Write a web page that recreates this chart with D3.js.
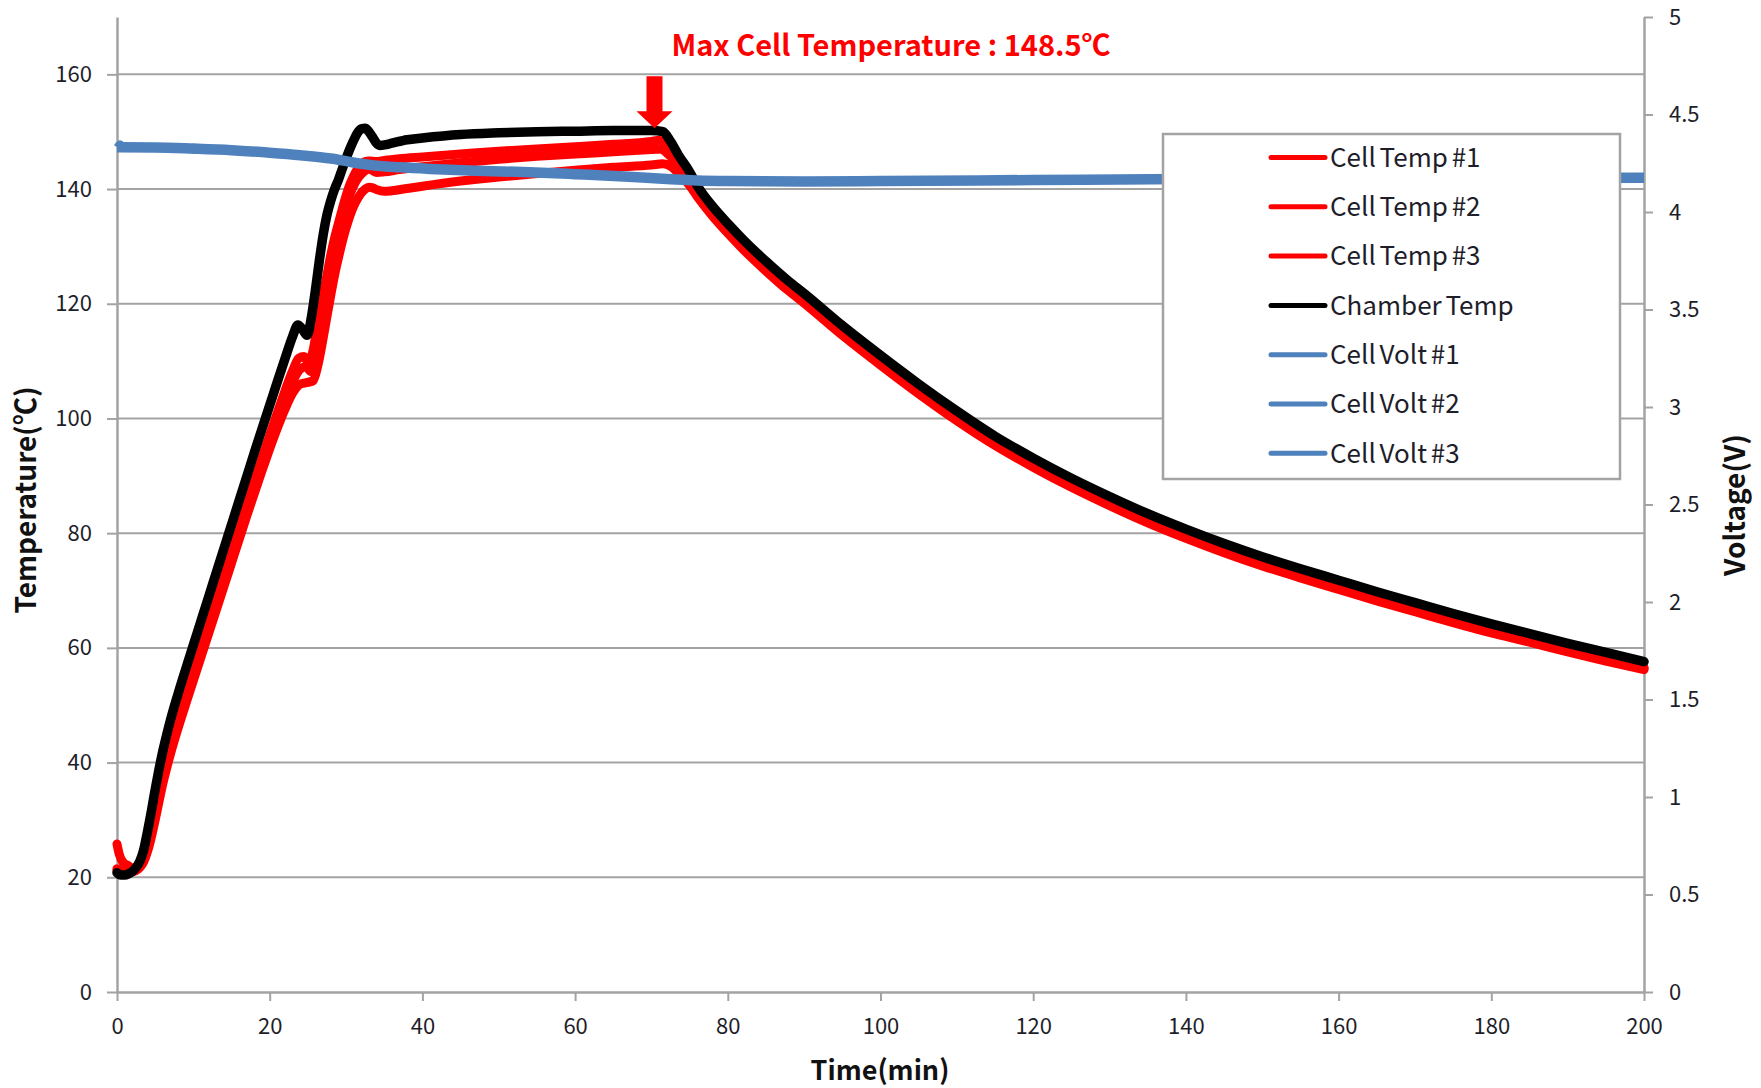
<!DOCTYPE html>
<html><head><meta charset="utf-8">
<script src="https://cdn.jsdelivr.net/npm/d3@7"></script>
<style>
body{margin:0;background:#fff}
svg{display:block}
text{font-family:"Noto Sans CJK KR","Noto Sans",sans-serif}
</style>
</head><body>
<svg id="chart" width="1761" height="1088"></svg>
<script>
// ---------------- DATA ----------------
const timeTicks = [0,20,40,60,80,100,120,140,160,180,200];
const tempTicks = [0,20,40,60,80,100,120,140,160];
const voltTicks = [0,0.5,1,1.5,2,2.5,3,3.5,4,4.5,5];
const seriesNames = ["Cell Temp #1","Cell Temp #2","Cell Temp #3","Chamber Temp","Cell Volt #1","Cell Volt #2","Cell Volt #3"];
const titleText = "Max Cell Temperature : 148.5\u2103";
const arrowPoint = [70.4, 150.6];   // [time, temp] the arrow points at

const chamberTemp = [[0,20.8],[0.5,20.4],[1,20.4],[1.5,20.6],[2,21],[2.5,21.7],[3,22.8],[3.5,24.8],[4,28],[4.5,31.5],[5,35.3],[5.5,38.8],[6,42],[6.5,44.8],[7,47.4],[8,52],[9,56.3],[10,60.5],[11,64.7],[12,68.9],[13,73.1],[14,77.3],[15,81.5],[16,85.7],[17,89.9],[18,94.1],[19,98.2],[20,102.3],[21,106.4],[22,110.4],[23,114.3],[23.7,116.3],[24.3,115.5],[24.9,114.5],[25.5,118],[26,122.5],[26.5,127.5],[27,132],[27.5,135.5],[28,138],[28.5,140],[29,141.6],[29.5,143.5],[30,145.3],[30.5,147],[31,148.5],[31.5,149.8],[32,150.5],[32.5,150.6],[33,150],[33.5,149],[34,148],[34.5,147.6],[35,147.7],[36,148],[38,148.6],[40,148.9],[45,149.5],[50,149.8],[55,150],[60,150.1],[65,150.2],[70,150.2],[71.5,150],[72.5,148.3],[73.5,146],[75,143],[76,140.6],[78,137],[80,134],[82,131.2],[85,127.4],[88,123.9],[90,121.8],[95,116.2],[100,111],[105,106],[110,101.3],[115,96.9],[120,93.1],[125,89.6],[130,86.4],[135,83.4],[140,80.7],[145,78.2],[150,75.9],[155,73.8],[160,71.8],[165,69.8],[170,67.9],[175,66],[180,64.2],[185,62.5],[190,60.8],[195,59.2],[200,57.6]];

const cellTemp1 = [[0,25.8],[0.3,24],[0.8,22.6],[1.5,22],[2,21.6],[2.5,21.6],[3,22.2],[3.5,23.6],[4,25.8],[4.5,28.8],[5,32],[5.5,35.2],[6,38.3],[6.5,41],[7,43.5],[8,48],[9,52.2],[10,56.3],[11,60.4],[12,64.5],[13,68.6],[14,72.7],[15,76.8],[16,80.9],[17,85],[18,89.1],[19,93.1],[20,97.1],[21,101],[22,104.8],[23,108.3],[23.8,110.5],[24.5,110.8],[25.1,109.6],[25.7,112],[26.3,116.5],[27,121.5],[27.5,125],[28,128.5],[28.5,131.5],[29,134],[29.5,136.5],[30,138.8],[30.5,140.8],[31,142.3],[31.5,143.5],[32,144.3],[32.5,144.8],[33,144.9],[34,144.8],[35,145],[37,145.3],[40,145.6],[45,146.1],[50,146.6],[55,147],[60,147.4],[65,147.8],[70,148.3],[71,148.5],[72,147.5],[73,145.6],[74,143.5],[75,141.3],[76,139.2],[78,135.7],[80,132.7],[82,129.9],[85,126.1],[88,122.6],[90,120.5],[95,114.9],[100,109.7],[105,104.7],[110,100],[115,95.7],[120,91.9],[125,88.4],[130,85.2],[135,82.2],[140,79.5],[145,77],[150,74.7],[155,72.6],[160,70.6],[165,68.6],[170,66.7],[175,64.8],[180,63],[185,61.4],[190,59.7],[195,58.1],[200,56.6]];

const cellTemp2 = [[0,21.5],[0.5,21.2],[1,21],[1.5,21],[2,21.1],[2.5,21.4],[3,22],[3.5,23.2],[4,25.2],[4.5,28],[5,31],[5.5,34.2],[6,37.3],[6.5,40],[7,42.5],[8,47],[9,51.2],[10,55.3],[11,59.4],[12,63.5],[13,67.6],[14,71.7],[15,75.8],[16,79.9],[17,84],[18,88.1],[19,92.1],[20,96],[21,99.8],[22,103.3],[23,106.4],[24,108.6],[24.8,109],[25.4,108.2],[26,111],[26.5,114.5],[27,118.5],[27.5,122.5],[28,126],[28.5,129.2],[29,132],[29.5,134.7],[30,137],[30.5,139],[31,140.6],[31.5,141.8],[32,142.6],[32.5,143.2],[33,143.5],[33.5,143.2],[34,142.9],[35,143],[37,143.4],[40,143.9],[45,144.6],[50,145.2],[55,145.7],[60,146.1],[65,146.5],[70,146.9],[71.2,147],[72,146.3],[73,145],[74,143],[75,141],[76,138.9],[78,135.5],[80,132.5],[82,129.7],[85,125.9],[88,122.4],[90,120.3],[95,114.7],[100,109.5],[105,104.5],[110,99.8],[115,95.5],[120,91.7],[125,88.2],[130,85],[135,82],[140,79.3],[145,76.8],[150,74.5],[155,72.4],[160,70.4],[165,68.4],[170,66.5],[175,64.6],[180,62.8],[185,61.2],[190,59.5],[195,57.9],[200,56.4]];

const cellTemp3 = [[0,21.2],[0.5,21],[1,20.8],[1.5,20.8],[2,21],[2.5,21.2],[3,21.7],[3.5,22.7],[4,24.5],[4.5,27],[5,30],[5.5,33.2],[6,36.3],[6.5,39],[7,41.5],[8,46],[9,50.2],[10,54.3],[11,58.4],[12,62.5],[13,66.6],[14,70.7],[15,74.8],[16,78.9],[17,83],[18,87],[19,90.9],[20,94.7],[21,98.3],[22,101.6],[23,104.4],[24,106],[25,106.3],[25.7,106.6],[26.3,109.2],[27,114],[27.5,117.8],[28,121.5],[28.5,125],[29,128],[29.5,130.8],[30,133.2],[30.5,135.3],[31,137],[31.5,138.3],[32,139.3],[32.5,140],[33,140.3],[33.5,140.2],[34,139.9],[35,139.6],[36,139.7],[38,140.1],[40,140.5],[45,141.4],[50,142.1],[55,142.7],[60,143.3],[65,143.8],[70,144.2],[71.5,144.4],[72.5,144],[73.5,142.8],[75,140.6],[76,138.7],[78,135.3],[80,132.3],[82,129.5],[85,125.7],[88,122.2],[90,120.1],[95,114.5],[100,109.3],[105,104.3],[110,99.6],[115,95.3],[120,91.5],[125,88],[130,84.8],[135,81.8],[140,79.1],[145,76.6],[150,74.3],[155,72.2],[160,70.2],[165,68.2],[170,66.3],[175,64.4],[180,62.6],[185,61],[190,59.3],[195,57.7],[200,56.2]];

const cellVolt1 = [[0,4.333],[0.4,4.35],[0.8,4.335],[5,4.332],[10,4.326],[15,4.318],[20,4.305],[24,4.292],[28,4.275],[30,4.262],[32,4.248],[34,4.238],[37,4.23],[41,4.222],[47,4.213],[54,4.205],[60,4.195],[67,4.182],[72,4.17],[76,4.163],[80,4.16],[90,4.158],[100,4.16],[120,4.165],[140,4.17],[160,4.173],[180,4.175],[200,4.177]];
const cellVolt2 = [[0,4.323],[5,4.322],[10,4.316],[15,4.308],[20,4.295],[24,4.282],[28,4.265],[30,4.252],[32,4.238],[34,4.228],[37,4.22],[41,4.212],[47,4.203],[54,4.195],[60,4.185],[67,4.172],[72,4.16],[76,4.153],[80,4.15],[90,4.148],[100,4.15],[120,4.155],[140,4.16],[160,4.163],[180,4.165],[200,4.167]];
const cellVolt3 = [[0,4.341],[5,4.34],[10,4.334],[15,4.326],[20,4.313],[24,4.3],[28,4.283],[30,4.27],[32,4.256],[34,4.246],[37,4.238],[41,4.23],[47,4.221],[54,4.213],[60,4.203],[67,4.19],[72,4.178],[76,4.171],[80,4.168],[90,4.166],[100,4.168],[120,4.173],[140,4.178],[160,4.181],[180,4.183],[200,4.185]];

// ---------------- CHART ----------------
const svg = d3.select("#chart");
const M = {left:117, right:1644, top:17, bottom:992};
const x = d3.scaleLinear().domain([0,200]).range([M.left, M.right]);
const y = d3.scaleLinear().domain([0,170]).range([M.bottom, M.top]);
const yV = d3.scaleLinear().domain([0,5]).range([M.bottom, M.top]);
const gridColor = "#a3a3a3";
const labelColor = "#1e1e2a";

// gridlines
svg.append("g").selectAll("line").data(tempTicks.filter(d=>d>0)).join("line")
  .attr("x1", M.left).attr("x2", M.right)
  .attr("y1", d=>y(d)).attr("y2", d=>y(d))
  .attr("stroke", gridColor).attr("stroke-width", 2);

function styleAxis(g){
  g.select(".domain").attr("stroke", gridColor).attr("stroke-width", 2.5);
  g.selectAll(".tick line").attr("stroke", gridColor).attr("stroke-width", 2);
  g.selectAll(".tick text").attr("fill", labelColor).style("font-size","22px")
    .style("font-family","'Noto Sans CJK KR','Noto Sans',sans-serif");
}
svg.append("g").attr("transform",`translate(${M.left},0)`)
  .call(d3.axisLeft(y).tickValues(tempTicks).tickSize(10).tickSizeOuter(0).tickPadding(15))
  .call(styleAxis);
svg.append("g").attr("transform",`translate(${M.right},0)`)
  .call(d3.axisRight(yV).tickValues(voltTicks).tickSize(9).tickSizeOuter(0).tickPadding(16).tickFormat(d=>String(d)))
  .call(styleAxis);
svg.append("g").attr("transform",`translate(0,${M.bottom})`)
  .call(d3.axisBottom(x).tickValues(timeTicks).tickSize(9).tickSizeOuter(0).tickPadding(17))
  .call(styleAxis);

// lines
const lineT = d3.line().x(d=>x(d[0])).y(d=>y(d[1])).curve(d3.curveMonotoneX);
const lineV = d3.line().x(d=>x(d[0])).y(d=>yV(d[1])).curve(d3.curveMonotoneX);
const plot = svg.append("g");
[cellTemp1, cellTemp2, cellTemp3].forEach(s=>{
  plot.append("path").attr("d", lineT(s)).attr("fill","none")
    .attr("stroke","#ff0000").attr("stroke-width",9).attr("stroke-linejoin","round").attr("stroke-linecap","round");
});
plot.append("path").attr("d", lineT(chamberTemp)).attr("fill","none")
  .attr("stroke","#000").attr("stroke-width",9.5).attr("stroke-linejoin","round").attr("stroke-linecap","round");
[cellVolt1, cellVolt2, cellVolt3].forEach(s=>{
  plot.append("path").attr("d", lineV(s)).attr("fill","none")
    .attr("stroke","#4f81bd").attr("stroke-width",7).attr("stroke-linejoin","round");
});

// arrow annotation
const ax = x(arrowPoint[0]), ay = y(arrowPoint[1]);
const topY = y(160) + 2;
svg.append("path")
  .attr("d", `M${ax-8},${topY} L${ax+8},${topY} L${ax+8},${ay-17} L${ax+18},${ay-17} L${ax},${ay} L${ax-18},${ay-17} L${ax-8},${ay-17} Z`)
  .attr("fill","#ff0000");

svg.append("text").attr("x", 891).attr("y", 56).attr("text-anchor","middle")
  .attr("fill","#ff0000").style("font-size","29px").style("font-weight","bold")
  .text(titleText);

// legend
const lg = svg.append("g");
lg.append("rect").attr("x",1163).attr("y",134).attr("width",457).attr("height",345)
  .attr("fill","#fff").attr("stroke","#a3a3a3").attr("stroke-width",2.5);
const legColors = ["#ff0000","#ff0000","#ff0000","#000000","#4f81bd","#4f81bd","#4f81bd"];
seriesNames.forEach((name,i)=>{
  const yy = 157.5 + i*49.3;
  lg.append("line").attr("x1",1271).attr("x2",1325).attr("y1",yy).attr("y2",yy)
    .attr("stroke",legColors[i]).attr("stroke-width",5).attr("stroke-linecap","round");
  lg.append("text").attr("x",1330).attr("y",yy).attr("dy","0.36em")
    .attr("fill",labelColor).style("font-size","26px").style("word-spacing","-2px")
    .text(name);
});

// axis titles
svg.append("text").attr("transform","translate(26,500) rotate(-90)").attr("text-anchor","middle")
  .attr("dy","0.35em").style("font-size","28px").style("font-weight","bold").attr("fill","#111")
  .text("Temperature(\u2103)");
svg.append("text").attr("transform","translate(1735,505) rotate(-90)").attr("text-anchor","middle")
  .attr("dy","0.35em").style("font-size","28px").style("font-weight","bold").attr("fill","#111")
  .text("Voltage(V)");
svg.append("text").attr("x",880).attr("y",1071).attr("text-anchor","middle")
  .attr("dy","0.35em").style("font-size","27px").style("font-weight","bold").attr("fill","#111")
  .text("Time(min)");
</script>
</body></html>
